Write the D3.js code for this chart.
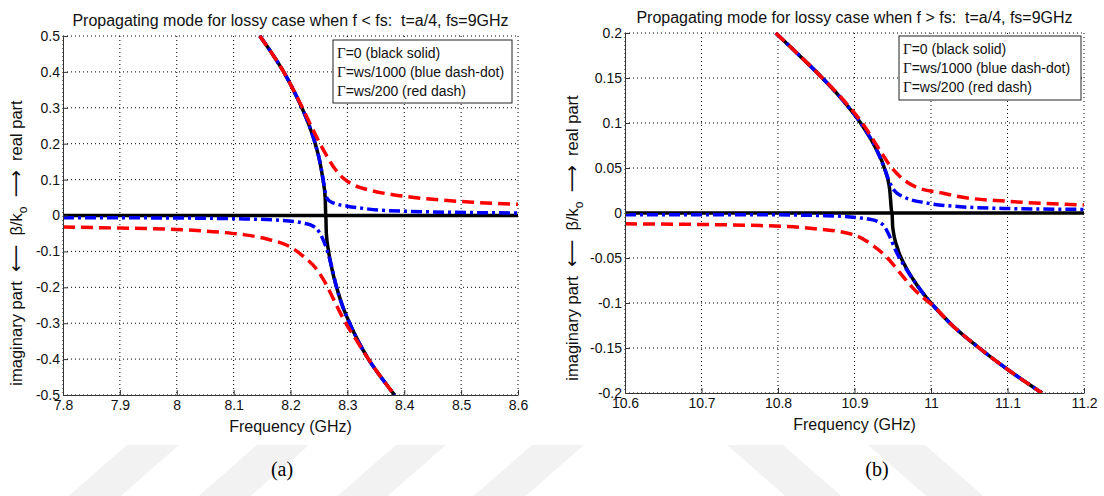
<!DOCTYPE html>
<html>
<head>
<meta charset="utf-8">
<script src="https://cdn.jsdelivr.net/npm/d3@7"></script>
<style>
  html, body { margin: 0; padding: 0; background: #fff; }
  svg { display: block; font-family: "Liberation Sans", Arial, sans-serif; }
</style>
</head>
<body>
<div id="chart"></div>
<script>
// ---- data ----
const seriesNames = ["Γ=0 (black solid)", "Γ=ws/1000 (blue dash-dot)", "Γ=ws/200 (red dash)"];

// (a) f < fs
const leftFreqTicks = [7.8, 7.9, 8.0, 8.1, 8.2, 8.3, 8.4, 8.5, 8.6];
const leftFreqLabels = ["7.8", "7.9", "8", "8.1", "8.2", "8.3", "8.4", "8.5", "8.6"];
const leftBetaTicks = [0.5, 0.4, 0.3, 0.2, 0.1, 0, -0.1, -0.2, -0.3, -0.4, -0.5];
const leftBetaLabels = ["0.5", "0.4", "0.3", "0.2", "0.1", "0", "-0.1", "-0.2", "-0.3", "-0.4", "-0.5"];

const leftBlackReal = [[8.146, 0.5], [8.168, 0.45], [8.188, 0.4], [8.205, 0.35], [8.220, 0.3], [8.233, 0.25],
  [8.2435, 0.2], [8.2516, 0.15], [8.257, 0.1], [8.261, 0.05], [8.262, 0], [8.6, 0]];
const leftBlackImag = [[7.8, 0], [8.262, 0], [8.263, -0.05], [8.267, -0.1], [8.273, -0.15], [8.281, -0.2],
  [8.291, -0.25], [8.304, -0.3], [8.319, -0.35], [8.337, -0.4], [8.359, -0.45], [8.383, -0.5]];
const leftBlueReal = [[8.146, 0.5], [8.168, 0.45], [8.188, 0.4], [8.205, 0.35], [8.220, 0.3], [8.233, 0.25],
  [8.2435, 0.2], [8.2516, 0.15], [8.2575, 0.1], [8.261, 0.065], [8.265, 0.046], [8.275, 0.035], [8.3, 0.026],
  [8.322, 0.021], [8.357, 0.015], [8.45, 0.010], [8.6, 0.007]];
const leftBlueImag = [[7.8, -0.006], [8.0, -0.007], [8.1, -0.009], [8.18, -0.013], [8.222, -0.021], [8.24, -0.03],
  [8.25, -0.045], [8.258, -0.07], [8.265, -0.1], [8.2735, -0.15], [8.281, -0.2], [8.291, -0.25], [8.304, -0.3],
  [8.319, -0.35], [8.337, -0.4], [8.359, -0.45], [8.383, -0.5]];
const leftRedReal = [[8.146, 0.5], [8.168, 0.45], [8.188, 0.4], [8.205, 0.35], [8.221, 0.3], [8.236, 0.25],
  [8.252, 0.2], [8.266, 0.16], [8.278, 0.13], [8.292, 0.105], [8.31, 0.086], [8.34, 0.07], [8.38, 0.058],
  [8.45, 0.045], [8.52, 0.037], [8.6, 0.031]];
const leftRedImag = [[7.8, -0.032], [7.9, -0.035], [8.0, -0.039], [8.08, -0.047], [8.12, -0.054], [8.16, -0.066],
  [8.2, -0.088], [8.222, -0.113], [8.247, -0.152], [8.262, -0.19], [8.274, -0.228], [8.287, -0.27], [8.301, -0.31],
  [8.317, -0.35], [8.337, -0.4], [8.359, -0.45], [8.383, -0.5]];

// (b) f > fs
const rightFreqTicks = [10.6, 10.7, 10.8, 10.9, 11.0, 11.1, 11.2];
const rightFreqLabels = ["10.6", "10.7", "10.8", "10.9", "11", "11.1", "11.2"];
const rightBetaTicks = [0.2, 0.15, 0.1, 0.05, 0, -0.05, -0.1, -0.15, -0.2];
const rightBetaLabels = ["0.2", "0.15", "0.1", "0.05", "0", "-0.05", "-0.1", "-0.15", "-0.2"];

const rightBlackReal = [[10.797, 0.2], [10.828, 0.175], [10.858, 0.15], [10.885, 0.125], [10.908, 0.1],
  [10.929, 0.07], [10.939, 0.05], [10.946, 0.026], [10.949, 0], [11.2, 0]];
const rightBlackImag = [[10.6, 0], [10.949, 0], [10.950, -0.016], [10.957, -0.041], [10.967, -0.06],
  [10.980, -0.078], [10.994, -0.094], [11.0, -0.1], [11.028, -0.125], [11.063, -0.15], [11.102, -0.175], [11.145, -0.2]];
const rightBlueReal = [[10.797, 0.2], [10.828, 0.175], [10.858, 0.15], [10.885, 0.125], [10.908, 0.1],
  [10.929, 0.07], [10.939, 0.05], [10.945, 0.036], [10.952, 0.025], [10.964, 0.018], [10.995, 0.011],
  [11.038, 0.007], [11.1, 0.005], [11.2, 0.004]];
const rightBlueImag = [[10.6, -0.002], [10.777, -0.002], [10.864, -0.003], [10.92, -0.007], [10.937, -0.013],
  [10.946, -0.026], [10.954, -0.042], [10.966, -0.06], [10.980, -0.078], [10.994, -0.094], [11.0, -0.1],
  [11.028, -0.125], [11.063, -0.15], [11.102, -0.175], [11.145, -0.2]];
const rightRedReal = [[10.797, 0.2], [10.828, 0.175], [10.858, 0.15], [10.886, 0.125], [10.91, 0.1],
  [10.933, 0.07], [10.947, 0.052], [10.96, 0.04], [10.98, 0.029], [11.016, 0.022], [11.038, 0.018],
  [11.1, 0.013], [11.2, 0.009]];
const rightRedImag = [[10.6, -0.012], [10.777, -0.014], [10.842, -0.017], [10.898, -0.024], [10.924, -0.036],
  [10.942, -0.049], [10.96, -0.067], [10.977, -0.084], [10.994, -0.097], [11.0, -0.101], [11.028, -0.125],
  [11.063, -0.15], [11.102, -0.175], [11.145, -0.2]];

const width = 1104;
const height = 496;

const svg = d3.select("#chart").append("svg")
  .attr("width", width)
  .attr("height", height);

// faint watermark stripes at the bottom of the page
const stripes = [
  [[127, 445], [179, 445], [116, 500], [64, 500]],
  [[257, 445], [309, 445], [246, 500], [194, 500]],
  [[396, 445], [446, 445], [383, 500], [333, 500]],
  [[532, 445], [584, 445], [521, 500], [469, 500]],
  [[727, 445], [783, 445], [846, 500], [790, 500]],
  [[868, 445], [925, 445], [988, 500], [931, 500]]
];
svg.append("g").selectAll("polygon")
  .data(stripes)
  .enter().append("polygon")
  .attr("points", d => d.map(p => p.join(",")).join(" "))
  .attr("fill", "#f2f2f2");

const lineStyles = [
  { color: "#000", dash: null, width: 3.5 },
  { color: "#0000ff", dash: "11,4,3,4", width: 3.5 },
  { color: "#ff0000", dash: "12,6", width: 3.5 }
];

function drawPanel(p) {
  const x = d3.scaleLinear().domain(p.xDomain).range([p.left, p.right]);
  const y = d3.scaleLinear().domain(p.yDomain).range([p.bottom, p.top]);
  const g = svg.append("g");

  // dotted grid
  g.append("g").selectAll("line")
    .data(p.xTicks)
    .enter().append("line")
    .attr("x1", d => x(d)).attr("x2", d => x(d))
    .attr("y1", p.top).attr("y2", p.bottom)
    .attr("stroke", "#000").attr("stroke-width", 1)
    .attr("stroke-dasharray", "1,3");
  g.append("g").selectAll("line")
    .data(p.yTicks)
    .enter().append("line")
    .attr("x1", p.left).attr("x2", p.right)
    .attr("y1", d => y(d)).attr("y2", d => y(d))
    .attr("stroke", "#000").attr("stroke-width", 1)
    .attr("stroke-dasharray", "1,3");

  // curves
  const line = d3.line()
    .x(d => x(d[0]))
    .y(d => y(d[1]))
    .curve(d3.curveMonotoneX);
  const clipId = "clip-" + p.id;
  svg.append("clipPath").attr("id", clipId)
    .append("rect")
    .attr("x", p.left).attr("y", p.top - 1)
    .attr("width", p.right - p.left).attr("height", p.bottom - p.top + 2);
  const curves = g.append("g").attr("clip-path", `url(#${clipId})`);
  p.series.forEach((pair, i) => {
    const st = lineStyles[i];
    pair.forEach(s => {
      curves.append("path")
        .datum(s)
        .attr("d", line)
        .attr("fill", "none")
        .attr("stroke", st.color)
        .attr("stroke-width", st.width)
        .attr("stroke-dasharray", st.dash);
    });
  });

  // axes
  const xAxis = d3.axisBottom(x)
    .tickValues(p.xTicks)
    .tickFormat((d, i) => p.xLabels[i])
    .tickSizeInner(-5).tickSizeOuter(0).tickPadding(5);
  const yAxis = d3.axisLeft(y)
    .tickValues(p.yTicks)
    .tickFormat((d, i) => p.yLabels[i])
    .tickSizeInner(-5).tickSizeOuter(0).tickPadding(3);
  const gx = g.append("g").attr("transform", `translate(0,${p.bottom})`).call(xAxis);
  const gy = g.append("g").attr("transform", `translate(${p.left},0)`).call(yAxis);
  [gx, gy].forEach(a => {
    a.selectAll("path").attr("stroke", "#333");
    a.selectAll("line").attr("stroke", "#333");
    a.selectAll("text")
      .attr("fill", "#111")
      .style("font-family", "'Liberation Sans', Arial, sans-serif")
      .style("font-size", "14px");
  });

  // title
  g.append("text")
    .attr("x", (p.left + p.right) / 2)
    .attr("y", p.top - 10)
    .attr("text-anchor", "middle")
    .attr("fill", "#111")
    .style("font-size", "16px")
    .style("white-space", "pre")
    .text(p.title);

  // x label
  g.append("text")
    .attr("x", (p.left + p.right) / 2)
    .attr("y", p.bottom + 37)
    .attr("text-anchor", "middle")
    .attr("fill", "#111")
    .style("font-size", "16px")
    .text("Frequency (GHz)");

  // y label
  const yl = g.append("text")
    .attr("transform", `translate(${p.yLabelX},${p.yLabelY}) rotate(-90)`)
    .attr("text-anchor", "middle")
    .attr("fill", "#111")
    .style("font-size", "16.5px")
    .style("white-space", "pre");
  yl.append("tspan").text("imaginary part  ");
  yl.append("tspan").style("font-family", "'DejaVu Sans'").style("font-size", "19px").text("⟵");
  yl.append("tspan").text("  β/k");
  yl.append("tspan").attr("dy", 5).style("font-size", "12px").text("o");
  yl.append("tspan").attr("dy", -5).text("  ");
  yl.append("tspan").style("font-family", "'DejaVu Sans'").style("font-size", "19px").text("⟶");
  yl.append("tspan").text("  real part");

  // legend
  const lg = g.append("g");
  lg.append("rect")
    .attr("x", p.legend.x).attr("y", p.legend.y)
    .attr("width", p.legend.w).attr("height", p.legend.h)
    .attr("fill", "#fff").attr("stroke", "#222").attr("stroke-width", 1);
  seriesNames.forEach((name, i) => {
    const t = lg.append("text")
      .attr("x", p.legend.x + 4)
      .attr("y", p.legend.y + 18 + i * 19)
      .attr("fill", "#111")
      .style("font-size", "14px");
    t.append("tspan").style("font-family", "'Liberation Serif', serif").style("font-size", "15px").text(name.slice(0, 1));
    t.append("tspan").text(name.slice(1));
  });

  // panel caption
  g.append("text")
    .attr("x", p.captionX)
    .attr("y", 476)
    .attr("text-anchor", "middle")
    .attr("fill", "#000")
    .style("font-family", "'Liberation Serif', 'Times New Roman', serif")
    .style("font-size", "20px")
    .text(p.caption);
}

drawPanel({
  id: "a",
  left: 63, right: 518, top: 36, bottom: 395,
  xDomain: [7.8, 8.6], yDomain: [-0.5, 0.5],
  xTicks: leftFreqTicks, xLabels: leftFreqLabels,
  yTicks: leftBetaTicks, yLabels: leftBetaLabels,
  title: "Propagating mode for lossy case when f < fs:  t=a/4, fs=9GHz",
  series: [[leftBlackReal, leftBlackImag], [leftBlueReal, leftBlueImag], [leftRedReal, leftRedImag]],
  legend: { x: 333, y: 40, w: 179, h: 63 },
  yLabelX: 22, yLabelY: 243,
  caption: "(a)", captionX: 282
});

drawPanel({
  id: "b",
  left: 625, right: 1084, top: 33, bottom: 393,
  xDomain: [10.6, 11.2], yDomain: [-0.2, 0.2],
  xTicks: rightFreqTicks, xLabels: rightFreqLabels,
  yTicks: rightBetaTicks, yLabels: rightBetaLabels,
  title: "Propagating mode for lossy case when f > fs:  t=a/4, fs=9GHz",
  series: [[rightBlackReal, rightBlackImag], [rightBlueReal, rightBlueImag], [rightRedReal, rightRedImag]],
  legend: { x: 899, y: 36, w: 182, h: 64 },
  yLabelX: 578, yLabelY: 238,
  caption: "(b)", captionX: 877
});
</script>
</body>
</html>
